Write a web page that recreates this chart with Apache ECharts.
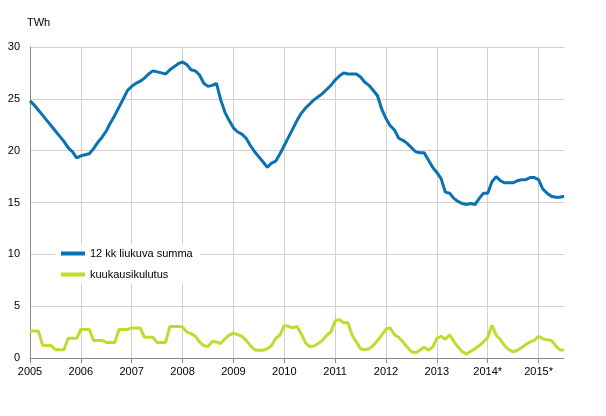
<!DOCTYPE html>
<html><head><meta charset="utf-8">
<script src="https://cdn.jsdelivr.net/npm/echarts@6/dist/echarts.min.js"></script>
<style>html,body{margin:0;padding:0;background:#fff}#c{width:606px;height:416px}</style>
</head><body><div id="c"></div>
<script>
const yearLabels = ["2005","2006","2007","2008","2009","2010","2011","2012","2013","2014*","2015*"];
const monthsInLastYear = 7;
const rolling = [24.8,24.4,23.9,23.4,22.9,22.4,21.9,21.4,20.9,20.3,19.9,19.3,
19.5,19.6,19.7,20.2,20.8,21.3,21.9,22.7,23.4,24.2,25.0,25.8,
26.2,26.5,26.7,27.0,27.4,27.7,27.6,27.5,27.4,27.8,28.1,28.4,
28.55,28.3,27.8,27.7,27.3,26.5,26.2,26.3,26.5,24.9,23.7,22.9,
22.2,21.8,21.6,21.2,20.5,19.9,19.4,18.9,18.4,18.8,19.0,19.7,
20.5,21.3,22.1,22.9,23.6,24.1,24.5,24.9,25.2,25.5,25.9,26.3,
26.8,27.2,27.5,27.4,27.4,27.4,27.1,26.6,26.3,25.8,25.3,24.0,
23.1,22.4,22.0,21.2,21.0,20.7,20.3,19.9,19.8,19.8,19.1,18.4,
17.9,17.3,16.0,15.9,15.4,15.1,14.9,14.8,14.9,14.8,15.4,15.9,
15.9,17.0,17.5,17.1,16.9,16.9,16.9,17.1,17.2,17.2,17.4,17.4,
17.2,16.3,15.9,15.6,15.5,15.5,15.6];
const monthly = [2.6,2.6,2.6,1.2,1.2,1.2,0.8,0.8,0.8,1.9,1.9,1.9,
2.75,2.75,2.75,1.7,1.7,1.7,1.5,1.5,1.5,2.75,2.75,2.75,
2.9,2.9,2.9,2.0,2.0,2.0,1.5,1.5,1.5,3.05,3.05,3.05,
3.0,2.5,2.35,2.1,1.55,1.2,1.1,1.6,1.55,1.4,1.85,2.2,
2.4,2.25,2.1,1.7,1.2,0.8,0.75,0.75,0.9,1.2,1.9,2.2,
3.15,3.05,2.9,3.05,2.35,1.45,1.1,1.15,1.4,1.7,2.2,2.5,
3.6,3.7,3.4,3.4,2.2,1.55,0.9,0.8,0.9,1.2,1.7,2.2,
2.8,2.9,2.25,2.0,1.55,1.05,0.6,0.5,0.75,1.05,0.75,1.05,
1.9,2.1,1.8,2.25,1.6,1.05,0.6,0.4,0.65,0.9,1.2,1.55,
2.0,3.15,2.2,1.75,1.2,0.8,0.6,0.75,1.0,1.3,1.55,1.7,
2.1,1.85,1.75,1.7,1.2,0.8,0.75];
const seriesNames = ["12 kk liukuva summa","kuukausikulutus"];

const cats = [];
yearLabels.forEach((y,i)=>{const n = i===yearLabels.length-1?monthsInLastYear:12; for(let m=0;m<n;m++) cats.push(m===0?y:y+"-"+(m+1));});
const font = "Liberation Sans, Arial, sans-serif";
const chart = echarts.init(document.getElementById('c'));
chart.setOption({
  animation:false,
  textStyle:{fontFamily:font},
  title:{text:"TWh",left:22,top:12,textStyle:{fontSize:11,fontWeight:'normal',color:'#000',fontFamily:font}},
  grid:{left:30,right:42,top:47,bottom:58,containLabel:false},
  legend:{orient:'vertical',left:55,top:244,itemGap:10,itemWidth:24,itemHeight:4,icon:'rect',
    backgroundColor:'#fff',padding:[4,8,4,6],
    textStyle:{fontSize:11,color:'#000',fontFamily:font},data:seriesNames},
  xAxis:{type:'category',data:cats,boundaryGap:false,
    axisLine:{lineStyle:{color:'#888'}},
    axisTick:{interval:(i)=>i%12===0,length:5,lineStyle:{color:'#888'}},
    axisLabel:{interval:(i)=>i%12===0,formatter:v=>v.indexOf('-')<0?v:'',fontSize:11,color:'#000',margin:8,fontFamily:font},
    splitLine:{show:true,interval:(i)=>i%12===0,lineStyle:{color:'#d0d0d0'}}},
  yAxis:{type:'value',min:0,max:30,interval:5,
    axisLine:{show:true,lineStyle:{color:'#888'}},
    axisLabel:{fontSize:11,color:'#000',margin:10,fontFamily:font},
    splitLine:{lineStyle:{color:'#d0d0d0'}}},
  series:[
    {name:seriesNames[0],type:'line',data:rolling,showSymbol:false,lineStyle:{width:3,color:'#0a72b0'},itemStyle:{color:'#0a72b0'}},
    {name:seriesNames[1],type:'line',data:monthly,showSymbol:false,lineStyle:{width:3,color:'#c4d92e'},itemStyle:{color:'#c4d92e'}}
  ]
});
</script></body></html>
